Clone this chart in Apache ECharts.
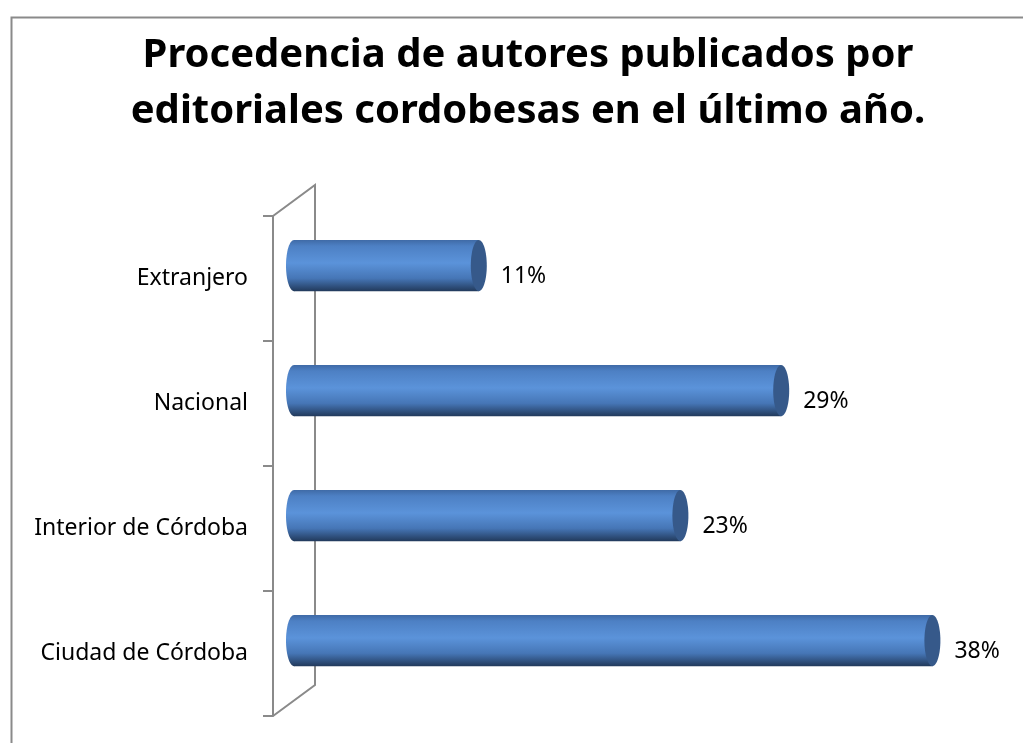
<!DOCTYPE html>
<html>
<head>
<meta charset="utf-8">
<script src="https://cdn.jsdelivr.net/npm/echarts@6/dist/echarts.min.js"></script>
<style>
  html, body { margin: 0; padding: 0; background: #fff; }
  #chart { width: 1023px; height: 743px; }
</style>
</head>
<body>
<div id="chart"></div>
<script>
// bottom to top, as the value axis of ECharts draws them
const categories = ['Ciudad de Córdoba', 'Interior de Córdoba', 'Nacional', 'Extranjero'];
const values = [38, 23, 29, 11];
const valueLabels = ['38%', '23%', '29%', '11%'];
const titleText = 'Procedencia de autores publicados por\neditoriales cordobesas en el último año.';

const wallColor = '#8a8a8a';
const depth = [42, -31];      // 3D wall offset
const barDepth = [21, -13];   // where the cylinders sit inside the wall

const bodyGradient = new echarts.graphic.LinearGradient(0, 0, 0, 1, [
  { offset: 0, color: '#3f6aa6' },
  { offset: 0.12, color: '#4d80c4' },
  { offset: 0.45, color: '#5b93da' },
  { offset: 0.75, color: '#4676b6' },
  { offset: 1, color: '#223a5c' }
]);

const chart = echarts.init(document.getElementById('chart'));

const renderCylinder = (params, api) => {
  const idx = api.value(0);
  const val = api.value(1);
  const start = api.coord([0, idx]);
  const end = api.coord([val, idx]);
  const bandH = api.size([0, 1])[1];
  const h = bandH * 0.41;
  const rx = 8;
  const x0 = start[0] + barDepth[0];
  const x1 = end[0] + barDepth[0];
  const cy = start[1] + barDepth[1];
  return {
    type: 'group',
    children: [
      {
        type: 'ellipse',
        shape: { cx: x0, cy: cy, rx: rx, ry: h / 2 },
        style: { fill: bodyGradient }
      },
      {
        type: 'rect',
        shape: { x: x0, y: cy - h / 2, width: x1 - x0, height: h },
        style: { fill: bodyGradient }
      },
      {
        type: 'ellipse',
        shape: { cx: x1, cy: cy, rx: rx, ry: h / 2 },
        style: { fill: '#36598a' }
      },
      {
        type: 'text',
        x: x1 + rx + 14,
        y: start[1] - 2,
        style: {
          text: valueLabels[params.dataIndex],
          fill: '#000',
          font: '23px "Noto Sans"',
          verticalAlign: 'middle'
        }
      }
    ]
  };
};

const renderWall = (params) => {
  const cs = params.coordSys;
  const left = cs.x;
  const top = cs.y;
  const bottom = cs.y + cs.height;
  return {
    type: 'polyline',
    shape: {
      points: [
        [left, bottom],
        [left + depth[0], bottom + depth[1]],
        [left + depth[0], top + depth[1]],
        [left, top]
      ]
    },
    style: { stroke: wallColor, lineWidth: 2, fill: null }
  };
};

chart.setOption({
  animation: false,
  title: {
    text: titleText,
    left: 523,
    top: 23,
    textAlign: 'center',
    textStyle: {
      fontFamily: 'Noto Sans',
      fontWeight: 'bold',
      fontSize: 40,
      lineHeight: 56,
      color: '#000'
    }
  },
  graphic: [
    {
      type: 'rect',
      left: 9,
      top: 15,
      shape: { width: 1100, height: 800 },
      style: { fill: null, stroke: wallColor, lineWidth: 2 }
    }
  ],
  grid: {
    left: 273,
    top: 216,
    width: 672,
    height: 500,
    containLabel: false
  },
  xAxis: {
    type: 'value',
    min: 0,
    max: 40,
    show: false
  },
  yAxis: {
    type: 'category',
    data: categories,
    boundaryGap: true,
    axisLine: { show: true, lineStyle: { color: wallColor, width: 2 } },
    axisTick: { show: true, length: 10, lineStyle: { color: wallColor, width: 2 } },
    axisLabel: {
      margin: 25,
      color: '#000',
      fontFamily: 'Noto Sans',
      fontSize: 23
    },
    splitLine: { show: false }
  },
  series: [
    {
      type: 'custom',
      renderItem: renderWall,
      data: [0],
      silent: true,
      z: 1
    },
    {
      type: 'custom',
      renderItem: renderCylinder,
      encode: { x: 1, y: 0 },
      data: values.map((v, i) => [i, v]),
      z: 2
    }
  ]
});
</script>
</body>
</html>
